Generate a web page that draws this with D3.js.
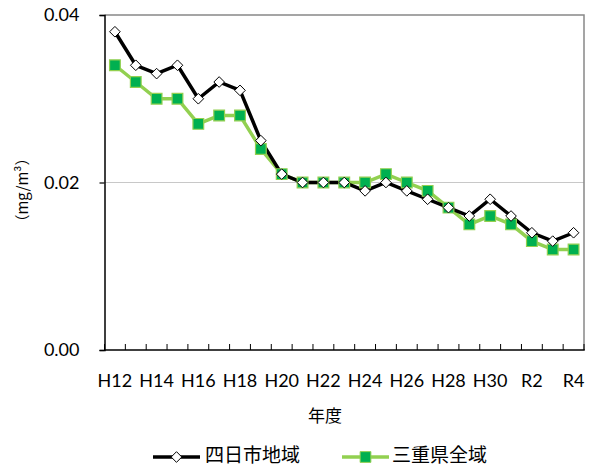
<!DOCTYPE html>
<html>
<head>
<meta charset="utf-8">
<script src="https://cdn.jsdelivr.net/npm/d3@7"></script>
<style>
  html, body { margin: 0; padding: 0; background: #fff; }
  svg { display: block; }
</style>
</head>
<body>
<svg id="chart" width="595" height="468"></svg>
<script>
// Fiscal years (Heisei → Reiwa)
const years = ["H12","H13","H14","H15","H16","H17","H18","H19","H20","H21","H22","H23",
               "H24","H25","H26","H27","H28","H29","H30","R1","R2","R3","R4"];
// Labels shown on the x axis (every other year)
const yearLabels = ["H12","H14","H16","H18","H20","H22","H24","H26","H28","H30","R2","R4"];
// Annual mean concentration (mg/m³)
const yokkaichi = [0.038,0.034,0.033,0.034,0.030,0.032,0.031,0.025,0.021,0.020,0.020,0.020,
                   0.019,0.020,0.019,0.018,0.017,0.016,0.018,0.016,0.014,0.013,0.014];
const mieAll    = [0.034,0.032,0.030,0.030,0.027,0.028,0.028,0.024,0.021,0.020,0.020,0.020,
                   0.020,0.021,0.020,0.019,0.017,0.015,0.016,0.015,0.013,0.012,0.012];
const yTicks = [0, 0.02, 0.04];
const seriesNames = ["四日市地域", "三重県全域"];

const latin = "Lato, 'Liberation Sans', sans-serif";
const cjk = "'Noto Sans CJK JP', 'Noto Sans', sans-serif";

const svg = d3.select("#chart");
const m = { left: 104.5, right: 584, top: 15, bottom: 350 };

const x = d3.scaleBand().domain(years).range([m.left, m.right]).padding(0);
const y = d3.scaleLinear().domain([0, 0.04]).range([m.bottom, m.top]);
const cx = d => x(d) + x.bandwidth() / 2;

// Gridline at 0.02
svg.append("g").selectAll("line").data(yTicks.filter(v => v > 0 && v < 0.04)).join("line")
  .attr("x1", m.left).attr("x2", m.right)
  .attr("y1", d => y(d)).attr("y2", d => y(d))
  .attr("stroke", "#c8c8c8").attr("stroke-width", 1);

// Top and right frame
svg.append("path")
  .attr("d", `M${m.left},${m.top}H${m.right}V${m.bottom}`)
  .attr("fill", "none").attr("stroke", "#888").attr("stroke-width", 1.5);

// Y axis
const yAxis = svg.append("g").attr("transform", `translate(${m.left},0)`)
  .call(d3.axisLeft(y).tickValues(yTicks).tickFormat(d3.format(".2f")).tickSize(5).tickPadding(20));
yAxis.select(".domain").attr("stroke", "#000").attr("stroke-width", 1.5);
yAxis.selectAll(".tick line").attr("stroke", "#000").attr("stroke-width", 1.2);
yAxis.selectAll("text").attr("font-family", latin).attr("font-size", 18).attr("fill", "#000");

// X axis: inward ticks at band boundaries
const xAxis = svg.append("g").attr("transform", `translate(0,${m.bottom})`);
xAxis.append("line").attr("x1", m.left).attr("x2", m.right + 0.75)
  .attr("y1", 0).attr("y2", 0).attr("stroke", "#000").attr("stroke-width", 1.5);
const bounds = years.map(d => x(d)).concat([m.right]);
xAxis.selectAll("line.tk").data(bounds).join("line").attr("class", "tk")
  .attr("x1", d => d).attr("x2", d => d).attr("y1", 0).attr("y2", -6)
  .attr("stroke", "#000").attr("stroke-width", 1);
xAxis.selectAll("text").data(yearLabels).join("text")
  .attr("x", d => cx(d)).attr("y", 37)
  .attr("text-anchor", "middle")
  .attr("font-family", latin).attr("font-size", 18).attr("fill", "#000")
  .text(d => d);

// Axis titles
svg.append("text").attr("x", 325).attr("y", 422).attr("text-anchor", "middle")
  .attr("font-family", cjk).attr("font-size", 17).attr("fill", "#000").text("年度");
svg.append("text").attr("transform", "translate(28,190) rotate(-90)")
  .attr("text-anchor", "middle")
  .attr("font-family", cjk).attr("font-size", 15).attr("fill", "#000")
  .text("（mg/m³）");

const line = d3.line().x((d, i) => cx(years[i])).y(d => y(d));

const diamond = d3.symbol().type(d3.symbolDiamond2).size(72);
const square = d3.symbol().type(d3.symbolSquare).size(115);

// 三重県全域
svg.append("path").datum(mieAll).attr("d", line)
  .attr("fill", "none").attr("stroke", "#92d050").attr("stroke-width", 3.5);
// 四日市地域
svg.append("path").datum(yokkaichi).attr("d", line)
  .attr("fill", "none").attr("stroke", "#000").attr("stroke-width", 3.5);

svg.append("g").selectAll("path").data(mieAll).join("path")
  .attr("transform", (d, i) => `translate(${cx(years[i])},${y(d)})`)
  .attr("d", square)
  .attr("fill", "#00b050").attr("stroke", "#92d050").attr("stroke-width", 1.2);

svg.append("g").selectAll("path").data(yokkaichi).join("path")
  .attr("transform", (d, i) => `translate(${cx(years[i])},${y(d)})`)
  .attr("d", diamond)
  .attr("fill", "#fff").attr("stroke", "#000").attr("stroke-width", 1);

// Legend
const legend = svg.append("g").attr("transform", "translate(0,457)");
const items = [
  { x0: 153, name: seriesNames[0], color: "#000", sym: diamond, fill: "#fff", stroke: "#000", tx: 205 },
  { x0: 342, name: seriesNames[1], color: "#92d050", sym: square, fill: "#00b050", stroke: "#92d050", tx: 392 }
];
items.forEach(it => {
  legend.append("line").attr("x1", it.x0).attr("x2", it.x0 + 47).attr("y1", 0).attr("y2", 0)
    .attr("stroke", it.color).attr("stroke-width", 3.5);
  legend.append("path").attr("transform", `translate(${it.x0 + 23.5},0)`).attr("d", it.sym)
    .attr("fill", it.fill).attr("stroke", it.stroke).attr("stroke-width", 1);
  legend.append("text").attr("x", it.tx).attr("y", 4.5)
    .attr("font-family", cjk).attr("font-size", 19).attr("fill", "#000").text(it.name);
});
</script>
</body>
</html>
